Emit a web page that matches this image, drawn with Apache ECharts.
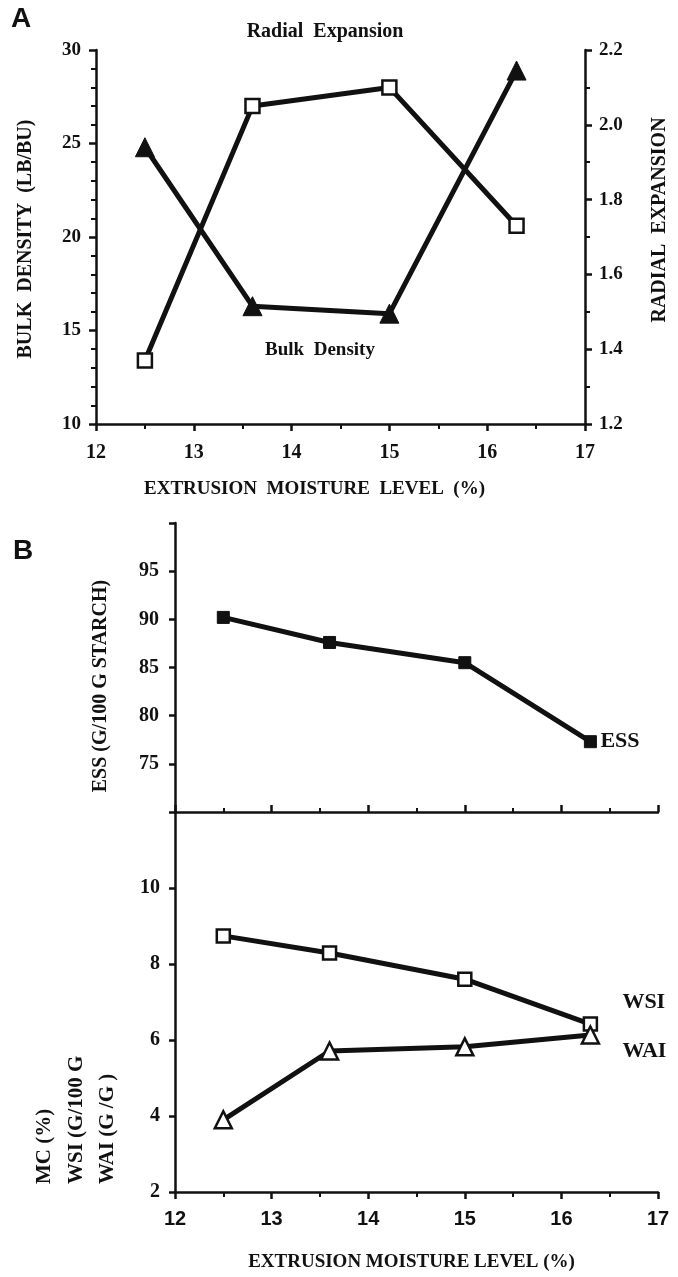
<!DOCTYPE html>
<html>
<head>
<meta charset="utf-8">
<script src="https://cdn.jsdelivr.net/npm/echarts@6/dist/echarts.min.js"></script>
<style>
html,body{margin:0;padding:0;background:#fff;}
#chart{width:678px;height:1277px;}
</style>
</head>
<body>
<div id="chart"></div>
<script>
// ---- data ----
const moisture = [12.5, 13.6, 15.0, 16.3];          // extrusion moisture level (%)
const bulkDensity = [24.8, 16.3, 15.9, 28.9];       // LB/BU (left axis, panel A)
const radialExpansion = [1.37, 2.05, 2.10, 1.73];   // right axis, panel A
const ess = [90.2, 87.6, 85.5, 77.3];               // G/100 G starch
const wsi = [8.74, 8.29, 7.60, 6.42];               // G/100 G
const wai = [3.90, 5.71, 5.82, 6.13];               // G/G
const xTicks = [12, 13, 14, 15, 16, 17];

const pts = (vals) => moisture.map((x, i) => [x, vals[i]]);
const SERIF = '"Liberation Serif", "Times New Roman", serif';
const SANS = '"Liberation Sans", Arial, sans-serif';
const INK = '#111';

const chart = echarts.init(document.getElementById('chart'), null, {renderer: 'canvas'});

const axisLine = {show: true, onZero: false, lineStyle: {color: INK, width: 2.5}};
const tick = (len, inside) => ({show: true, length: len, inside: !!inside, lineStyle: {color: INK, width: 2.5}});
const minor = (n, len) => ({show: true, splitNumber: n, length: len, lineStyle: {color: INK, width: 2}});

const option = {
  animation: false,
  backgroundColor: '#fff',
  grid: [
    {left: 96, top: 50, width: 496, height: 374},
    {left: 175, top: 523, width: 483, height: 289},
    {left: 175, top: 812, width: 483, height: 380}
  ],
  xAxis: [
    {
      gridIndex: 0, type: 'value', min: 12, max: 17, interval: 1,
      axisLine, axisTick: tick(7), minorTick: minor(2, 5), splitLine: {show: false},
      axisLabel: {color: INK, fontFamily: SERIF, fontWeight: 'bold', fontSize: 20, margin: 19},
      name: 'EXTRUSION  MOISTURE  LEVEL  (%)', nameLocation: 'middle', nameGap: 56,
      nameTextStyle: {color: INK, fontFamily: SERIF, fontWeight: 'bold', fontSize: 19, padding: [0, 52, 0, 0]}
    },
    {
      gridIndex: 1, type: 'value', min: 12, max: 17, interval: 1,
      axisLine, axisTick: tick(7, true), minorTick: minor(2, 4), splitLine: {show: false},
      axisLabel: {show: false}
    },
    {
      gridIndex: 2, type: 'value', min: 12, max: 17, interval: 1,
      axisLine, axisTick: tick(7), minorTick: minor(2, 5), splitLine: {show: false},
      axisLabel: {color: INK, fontFamily: SANS, fontWeight: 'bold', fontSize: 20, margin: 17},
      name: 'EXTRUSION MOISTURE LEVEL (%)', nameLocation: 'middle', nameGap: 61,
      nameTextStyle: {color: INK, fontFamily: SERIF, fontWeight: 'bold', fontSize: 19, padding: [0, 10, 0, 0]}
    }
  ],
  yAxis: [
    {
      gridIndex: 0, type: 'value', min: 10, max: 30, interval: 5, position: 'left',
      axisLine, axisTick: tick(7), minorTick: minor(5, 5), splitLine: {show: false},
      axisLabel: {color: INK, fontFamily: SERIF, fontWeight: 'bold', fontSize: 19, margin: 15},
      name: 'BULK  DENSITY  (LB/BU)', nameLocation: 'middle', nameGap: 60,
      nameTextStyle: {color: INK, fontFamily: SERIF, fontWeight: 'bold', fontSize: 20, padding: [0, 4, 0, 0]}
    },
    {
      gridIndex: 0, type: 'value', min: 1.2, max: 2.2, interval: 0.2, position: 'right',
      axisLine, axisTick: tick(7), minorTick: minor(2, 5), splitLine: {show: false},
      axisLabel: {color: INK, fontFamily: SERIF, fontWeight: 'bold', fontSize: 19, margin: 14,
        formatter: v => v.toFixed(1)},
      name: 'RADIAL  EXPANSION', nameLocation: 'middle', nameGap: 65, nameRotate: 90,
      nameTextStyle: {color: INK, fontFamily: SERIF, fontWeight: 'bold', fontSize: 20, padding: [0, 0, 0, 34]}
    },
    {
      gridIndex: 1, type: 'value', min: 70, max: 100, interval: 5,
      axisLine, axisTick: tick(6), splitLine: {show: false},
      axisLabel: {color: INK, fontFamily: SERIF, fontWeight: 'bold', fontSize: 20, margin: 16,
        formatter: v => (v === 70 || v === 100) ? '' : String(v)}
    },
    {
      gridIndex: 2, type: 'value', min: 2, max: 12, interval: 2,
      axisLine, axisTick: tick(6), splitLine: {show: false},
      axisLabel: {color: INK, fontFamily: SERIF, fontWeight: 'bold', fontSize: 20, margin: 15,
        formatter: v => v === 12 ? '' : String(v)}
    }
  ],
  series: [
    {
      name: 'Bulk Density', type: 'line', xAxisIndex: 0, yAxisIndex: 0,
      data: pts(bulkDensity), symbol: 'triangle', symbolSize: 19,
      lineStyle: {color: INK, width: 5}, itemStyle: {color: INK, borderColor: INK, borderWidth: 1}
    },
    {
      name: 'Radial Expansion', type: 'line', xAxisIndex: 0, yAxisIndex: 1,
      data: pts(radialExpansion), symbol: 'rect', symbolSize: 14,
      lineStyle: {color: INK, width: 5}, itemStyle: {color: '#fff', borderColor: INK, borderWidth: 2.5}
    },
    {
      name: 'ESS', type: 'line', xAxisIndex: 1, yAxisIndex: 2,
      data: pts(ess), symbol: 'rect', symbolSize: 12,
      lineStyle: {color: INK, width: 5}, itemStyle: {color: INK, borderColor: INK, borderWidth: 1},
      endLabel: {show: true, formatter: 'ESS', color: INK, fontFamily: SERIF, fontWeight: 'bold', fontSize: 22, distance: 10}
    },
    {
      name: 'WSI', type: 'line', xAxisIndex: 2, yAxisIndex: 3,
      data: pts(wsi), symbol: 'rect', symbolSize: 13,
      lineStyle: {color: INK, width: 5}, itemStyle: {color: '#fff', borderColor: INK, borderWidth: 2.5},
      endLabel: {show: true, formatter: 'WSI', color: INK, fontFamily: SERIF, fontWeight: 'bold', fontSize: 22, distance: 10, offset: [22, -22]}
    },
    {
      name: 'WAI', type: 'line', xAxisIndex: 2, yAxisIndex: 3,
      data: pts(wai), symbol: 'triangle', symbolSize: 17,
      lineStyle: {color: INK, width: 5}, itemStyle: {color: '#fff', borderColor: INK, borderWidth: 2.5},
      endLabel: {show: true, formatter: 'WAI', color: INK, fontFamily: SERIF, fontWeight: 'bold', fontSize: 22, distance: 10, offset: [22, 16]}
    }
  ],
  graphic: [
    {type: 'text', left: 11, top: 5, style: {text: 'A', font: 'bold 28px ' + SANS, fill: INK}},
    {type: 'text', left: 13, top: 537, style: {text: 'B', font: 'bold 28px ' + SANS, fill: INK}},
    {type: 'text', x: 325, y: 32, style: {text: 'Radial  Expansion', font: 'bold 20px ' + SERIF, fill: INK, align: 'center', verticalAlign: 'middle'}},
    {type: 'text', x: 320, y: 350, style: {text: 'Bulk  Density', font: 'bold 19px ' + SERIF, fill: INK, align: 'center', verticalAlign: 'middle'}},
    {type: 'text', x: 101, y: 686, rotation: Math.PI / 2, style: {text: 'ESS (G/100 G STARCH)', font: 'bold 20px ' + SERIF, fill: INK, align: 'center', verticalAlign: 'middle'}},
    {type: 'text', x: 45, y: 1184, rotation: Math.PI / 2, style: {text: 'MC (%)', font: 'bold 21px ' + SERIF, fill: INK, align: 'left', verticalAlign: 'middle'}},
    {type: 'text', x: 77, y: 1184, rotation: Math.PI / 2, style: {text: 'WSI (G/100 G', font: 'bold 21px ' + SERIF, fill: INK, align: 'left', verticalAlign: 'middle'}},
    {type: 'text', x: 108, y: 1184, rotation: Math.PI / 2, style: {text: 'WAI (G /G )', font: 'bold 21px ' + SERIF, fill: INK, align: 'left', verticalAlign: 'middle'}}
  ]
};
chart.setOption(option);
</script>
</body>
</html>
